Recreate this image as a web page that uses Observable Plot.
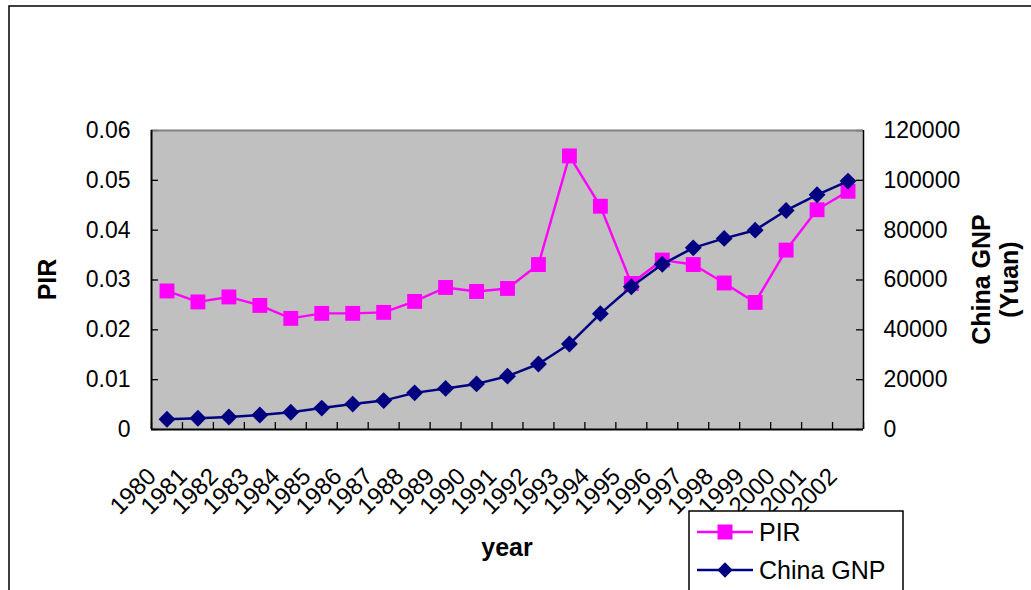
<!DOCTYPE html>
<html>
<head>
<meta charset="utf-8">
<script src="https://cdn.jsdelivr.net/npm/d3@7"></script>
<script src="https://cdn.jsdelivr.net/npm/@observablehq/plot@0.6"></script>
<style>
  html, body { margin: 0; padding: 0; background: #fff; }
  #chart svg { display: block; overflow: visible; }
</style>
</head>
<body>
<div id="chart"></div>
<script>
// Annual series, 1980–2002
const years = [1980, 1981, 1982, 1983, 1984, 1985, 1986, 1987, 1988, 1989, 1990, 1991,
               1992, 1993, 1994, 1995, 1996, 1997, 1998, 1999, 2000, 2001, 2002];
const pir = [0.0278, 0.0256, 0.0266, 0.0249, 0.0223, 0.0233, 0.0233, 0.0235, 0.0257, 0.0285,
             0.0277, 0.0283, 0.0331, 0.0549, 0.0448, 0.0293, 0.0340, 0.0331, 0.0294, 0.0255,
             0.0360, 0.0441, 0.0478];
const gnp = [4100, 4500, 5000, 5800, 6900, 8600, 10200, 11600, 14700, 16500, 18300, 21400,
             26300, 34300, 46500, 57300, 66300, 72900, 76700, 80000, 87900, 94200, 99700];

// Axis ticks
const pirTicks = [0, 0.01, 0.02, 0.03, 0.04, 0.05, 0.06];
const gnpTicks = [0, 20000, 40000, 60000, 80000, 100000, 120000];

const seriesNames = ["PIR", "China GNP"];
const colors = {PIR: "#FF00FF", GNP: "#000080"};

// The right axis shares the left axis' pixel range: GNP is rescaled onto it
const ratio = gnpTicks[gnpTicks.length - 1] / pirTicks[pirTicks.length - 1];

const rows = years.map((year, i) => ({year, pir: pir[i], gnp: gnp[i]}));
const boundaries = years.map(y => y - 0.5).concat([years[years.length - 1] + 0.5]);

const W = 1031, H = 590;
const mL = 151, mR = 168, mT = 130, mB = 161;
const FONT = "'Liberation Sans', Arial, sans-serif";

const chart = Plot.plot({
  width: W,
  height: H,
  marginLeft: mL,
  marginRight: mR,
  marginTop: mT,
  marginBottom: mB,
  style: {fontFamily: FONT, fontSize: "23px", color: "#000", background: "transparent"},
  x: {domain: [years[0] - 0.5, years[years.length - 1] + 0.5]},
  y: {domain: [pirTicks[0], pirTicks[pirTicks.length - 1]]},
  marks: [
    Plot.frame({fill: "#C0C0C0", stroke: null}),
    // inner tick marks
    Plot.tickY(pirTicks, {y: d => d, stroke: "#000", strokeWidth: 1.3, insetRight: W - mL - mR - 7}),
    Plot.tickY(pirTicks, {y: d => d, stroke: "#000", strokeWidth: 1.3, insetLeft: W - mL - mR - 7}),
    Plot.tickX(boundaries, {x: d => d, stroke: "#000", strokeWidth: 1.3, insetTop: H - mT - mB - 7}),
    // plot area border
    Plot.ruleY([pirTicks[pirTicks.length - 1]], {stroke: "#808080", strokeWidth: 2}),
    Plot.ruleX([boundaries[0]], {stroke: "#000", strokeWidth: 2}),
    Plot.ruleX([boundaries[boundaries.length - 1]], {stroke: "#000", strokeWidth: 1.5}),
    Plot.ruleY([pirTicks[0]], {stroke: "#000", strokeWidth: 2}),
    // PIR series
    Plot.line(rows, {x: "year", y: "pir", stroke: colors.PIR, strokeWidth: 2.4}),
    Plot.dot(rows, {x: "year", y: "pir", symbol: "square", r: 8.4, fill: colors.PIR, stroke: null}),
    // China GNP series on the right-hand scale
    Plot.line(rows, {x: "year", y: d => d.gnp / ratio, stroke: colors.GNP, strokeWidth: 2.5}),
    Plot.dot(rows, {x: "year", y: d => d.gnp / ratio, symbol: "diamond2", r: 7.6, fill: colors.GNP, stroke: null}),
    // axes
    Plot.axisY({anchor: "left", ticks: pirTicks, tickSize: 0, tickPadding: 21, label: null,
                tickFormat: d => d === 0 ? "0" : d.toFixed(2), fontSize: 23}),
    Plot.axisY({anchor: "right", ticks: pirTicks, tickSize: 0, tickPadding: 20, label: null,
                tickFormat: d => String(Math.round(d * ratio)), fontSize: 23}),
    Plot.axisX({anchor: "bottom", ticks: years, tickSize: 0, tickPadding: 43, tickRotate: -45,
                dx: -15, label: null, tickFormat: d => String(d), fontSize: 24})
  ]
});

document.getElementById("chart").appendChild(chart);

// Chart border, axis titles and legend
const svg = d3.select(chart);
svg.insert("rect", ":first-child")
  .attr("x", 9).attr("y", 6).attr("width", W + 20).attr("height", H + 20)
  .attr("fill", "#fff").attr("stroke", "#000").attr("stroke-width", 1.5);

const titles = svg.append("g")
  .attr("font-family", FONT).attr("font-weight", "bold").attr("font-size", 25)
  .attr("fill", "#000").attr("text-anchor", "middle");

titles.append("text")
  .attr("transform", `translate(47, ${mT + (H - mT - mB) / 2}) rotate(-90)`)
  .attr("dy", "0.36em").text("PIR");

const rightTitle = titles.append("text")
  .attr("transform", `translate(1000, ${mT + (H - mT - mB) / 2}) rotate(-90)`);
rightTitle.append("tspan").attr("x", 0).attr("dy", "-0.42em").text("China GNP");
rightTitle.append("tspan").attr("x", 0).attr("dy", "1.15em").text("(Yuan)");

titles.append("text")
  .attr("x", mL + (W - mL - mR) / 2).attr("y", 556).text("year");

// Legend
const legend = svg.append("g")
  .attr("font-family", FONT).attr("font-size", 25).attr("text-anchor", "start");
legend.append("rect")
  .attr("x", 689).attr("y", 511).attr("width", 214).attr("height", 100)
  .attr("fill", "#fff").attr("stroke", "#000").attr("stroke-width", 1.5);

const entries = [
  {name: seriesNames[0], color: colors.PIR, symbol: d3.symbolSquare, size: 225, width: 2.4},
  {name: seriesNames[1], color: colors.GNP, symbol: d3.symbolDiamond2, size: 150, width: 2.5}
];
entries.forEach((e, i) => {
  const cy = 532 + i * 38;
  const g = legend.append("g");
  g.append("line").attr("x1", 697).attr("x2", 753).attr("y1", cy).attr("y2", cy)
    .attr("stroke", e.color).attr("stroke-width", e.width);
  g.append("path").attr("transform", `translate(725, ${cy})`)
    .attr("d", d3.symbol(e.symbol, e.size)()).attr("fill", e.color);
  g.append("text").attr("x", 759).attr("y", cy).attr("dy", "0.36em").attr("fill", "#000").text(e.name);
});
</script>
</body>
</html>
